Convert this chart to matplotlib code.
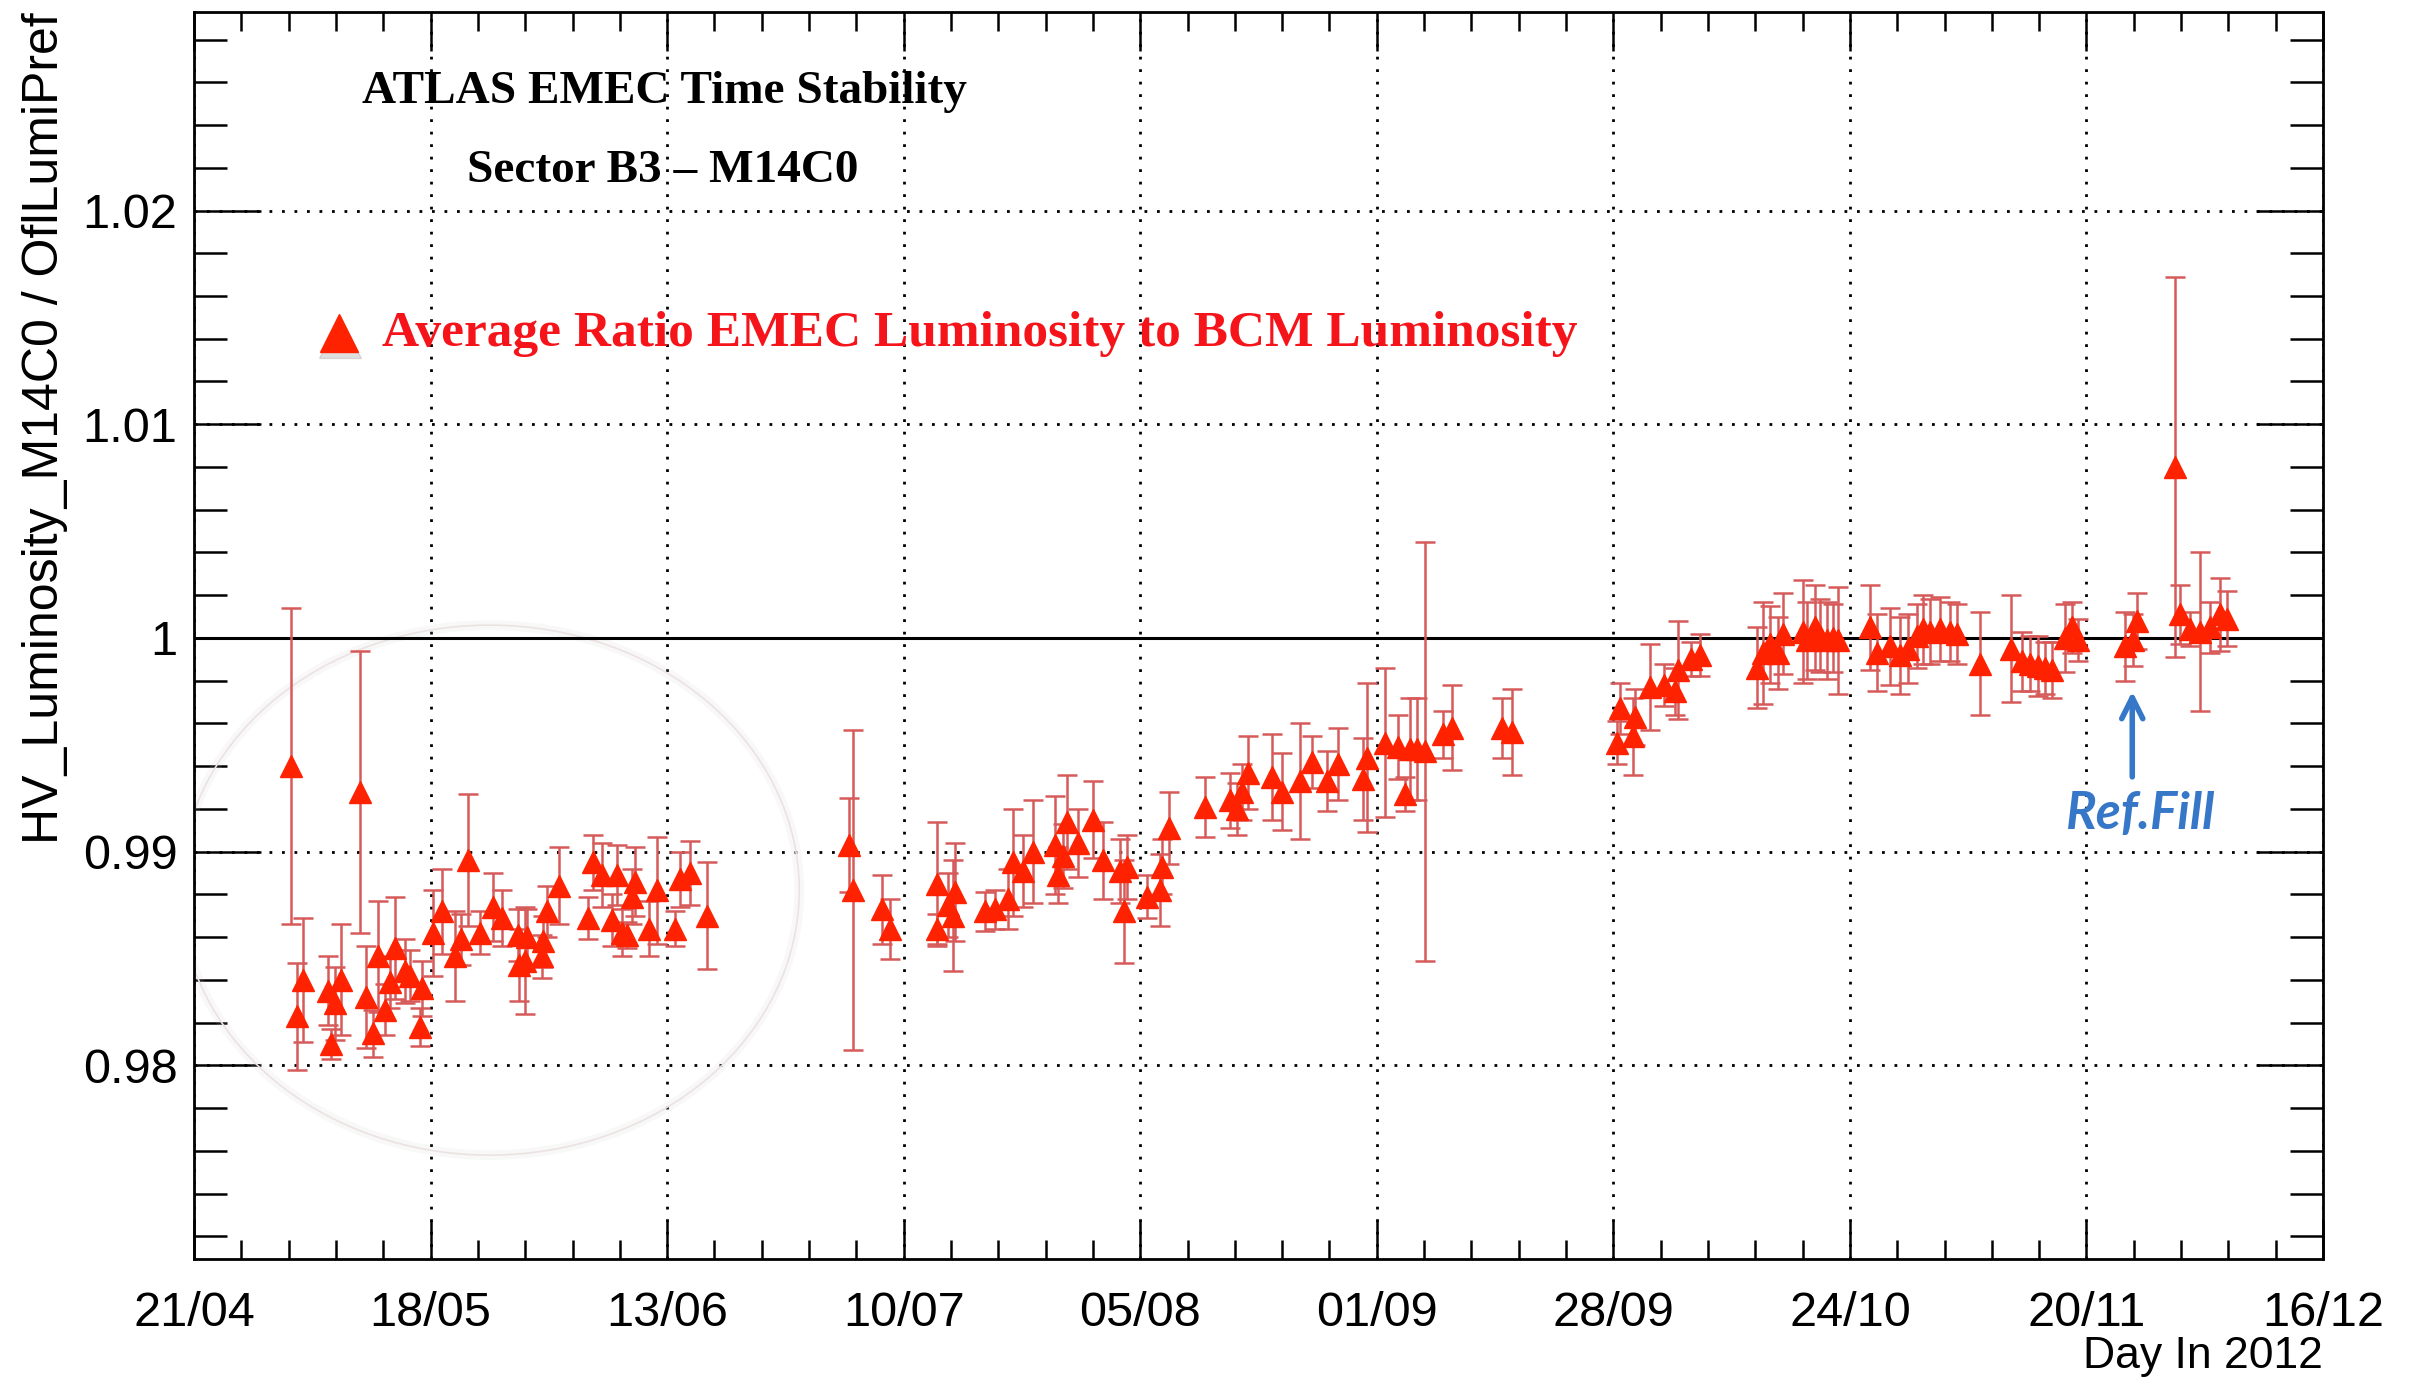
from datetime import datetime, timedelta

import matplotlib

matplotlib.use("Agg")
import matplotlib.pyplot as plt
from matplotlib.patches import Ellipse
from matplotlib.ticker import AutoMinorLocator, FuncFormatter, LinearLocator, MultipleLocator

plt.rcParams["font.family"] = ["Liberation Sans", "DejaVu Sans"]

# Run time as fractional day in 2012 (0.0 = 1 January 00:00)
day = [
    122.55, 123.30, 123.90, 126.78, 127.08, 127.53, 128.16, 130.33, 131.01, 131.76,
    132.39, 133.14, 133.70, 134.26, 135.39, 135.95, 137.07, 137.26, 138.57, 139.50,
    141.00, 141.64, 142.50, 143.81, 145.23, 146.24, 148.11, 148.22, 148.86, 149.05,
    150.73, 150.92, 151.37, 152.71, 155.97, 156.53, 157.47, 158.59, 159.15, 159.71,
    160.27, 160.83, 161.20, 162.81, 163.64, 165.70, 166.26, 167.38, 169.25, 185.27,
    185.72, 188.90, 189.83, 195.07, 195.15, 196.38, 196.95, 197.13, 200.49, 201.62,
    203.11, 203.68, 204.80, 205.92, 208.35, 208.73, 209.29, 209.66, 210.97, 212.66,
    213.78, 215.65, 216.10, 216.40, 218.65, 220.14, 220.33, 221.19, 225.19, 228.00,
    228.75, 229.31, 230.06, 232.68, 233.80, 235.86, 237.17, 238.85, 240.16, 242.97,
    243.34, 245.40, 246.90, 247.64, 248.20, 248.95, 249.89, 251.95, 252.88, 258.50,
    259.62, 271.41, 271.78, 273.28, 273.47, 275.15, 276.71, 277.91, 278.31, 279.81,
    280.76, 287.12, 287.87, 288.62, 289.56, 290.12, 292.36, 292.74, 293.67, 294.23,
    294.98, 295.73, 296.29, 299.85, 300.60, 302.09, 303.21, 304.15, 305.09, 305.84,
    306.58, 307.71, 308.83, 309.58, 312.20, 315.71, 316.88, 317.81, 318.75, 319.50,
    320.24, 321.74, 322.49, 323.24, 328.48, 329.41, 329.79, 334.09, 334.65, 335.78,
    336.90, 338.02, 339.14, 339.89,
]
ratio = [
    0.9940, 0.9823, 0.9840, 0.9835, 0.9810, 0.9829, 0.9840, 0.9928, 0.9832, 0.9815,
    0.9851, 0.9826, 0.9839, 0.9855, 0.9844, 0.9842, 0.9818, 0.9836, 0.9862, 0.9872,
    0.9851, 0.9859, 0.9896, 0.9862, 0.9874, 0.9869, 0.9861, 0.9847, 0.9849, 0.9860,
    0.9851, 0.9858, 0.9872, 0.9884, 0.9869, 0.9895, 0.9889, 0.9868, 0.9889, 0.9862,
    0.9861, 0.9879, 0.9886, 0.9864, 0.9882, 0.9864, 0.9887, 0.9890, 0.9870, 0.9903,
    0.9882, 0.9873, 0.9864, 0.9885, 0.9864, 0.9875, 0.9870, 0.9881, 0.9872, 0.9873,
    0.9878, 0.9895, 0.9891, 0.9900, 0.9903, 0.9889, 0.9898, 0.9914, 0.9904, 0.9915,
    0.9896, 0.9891, 0.9872, 0.9893, 0.9879, 0.9882, 0.9893, 0.9911, 0.9921, 0.9924,
    0.9920, 0.9928, 0.9937, 0.9935, 0.9928, 0.9933, 0.9942, 0.9933, 0.9941, 0.9934,
    0.9944, 0.9951, 0.9949, 0.9927, 0.9948, 0.9948, 0.9947, 0.9955, 0.9958, 0.9958,
    0.9956, 0.9951, 0.9967, 0.9954, 0.9963, 0.9977, 0.9978, 0.9975, 0.9985, 0.9990,
    0.9992, 0.9986, 0.9993, 0.9997, 0.9993, 1.0002, 1.0003, 0.9999, 1.0005, 1.0001,
    0.9999, 1.0000, 0.9999, 1.0005, 0.9993, 0.9996, 0.9992, 0.9995, 1.0001, 1.0004,
    1.0003, 1.0004, 1.0003, 1.0002, 0.9988, 0.9995, 0.9989, 0.9988, 0.9987, 0.9986,
    0.9985, 1.0000, 1.0005, 0.9999, 0.9996, 0.9999, 1.0008, 1.0080, 1.0011, 1.0004,
    1.0003, 1.0005, 1.0011, 1.0009,
]
ratio_err = [
    0.0074, 0.0025, 0.0029, 0.0016, 0.0007, 0.0017, 0.0026, 0.0066, 0.0024, 0.0011,
    0.0026, 0.0012, 0.0012, 0.0024, 0.0015, 0.0012, 0.0009, 0.0013, 0.0020, 0.0020,
    0.0021, 0.0012, 0.0031, 0.0010, 0.0016, 0.0013, 0.0012, 0.0017, 0.0025, 0.0013,
    0.0010, 0.0012, 0.0012, 0.0018, 0.0010, 0.0013, 0.0015, 0.0012, 0.0014, 0.0011,
    0.0006, 0.0013, 0.0016, 0.0013, 0.0025, 0.0008, 0.0013, 0.0015, 0.0025, 0.0022,
    0.0075, 0.0016, 0.0014, 0.0029, 0.0007, 0.0015, 0.0026, 0.0023, 0.0009, 0.0009,
    0.0014, 0.0025, 0.0017, 0.0024, 0.0023, 0.0013, 0.0015, 0.0022, 0.0016, 0.0018,
    0.0018, 0.0015, 0.0024, 0.0015, 0.0010, 0.0017, 0.0013, 0.0017, 0.0014, 0.0013,
    0.0012, 0.0013, 0.0017, 0.0020, 0.0018, 0.0027, 0.0012, 0.0014, 0.0017, 0.0019,
    0.0035, 0.0035, 0.0015, 0.0008, 0.0024, 0.0024, 0.0098, 0.0011, 0.0020, 0.0014,
    0.0020, 0.0010, 0.0012, 0.0018, 0.0013, 0.0020, 0.0010, 0.0011, 0.0023, 0.0008,
    0.0010, 0.0019, 0.0024, 0.0018, 0.0017, 0.0019, 0.0024, 0.0018, 0.0020, 0.0017,
    0.0018, 0.0016, 0.0025, 0.0020, 0.0018, 0.0018, 0.0018, 0.0016, 0.0015, 0.0016,
    0.0015, 0.0015, 0.0014, 0.0014, 0.0024, 0.0025, 0.0014, 0.0013, 0.0014, 0.0012,
    0.0013, 0.0016, 0.0012, 0.0010, 0.0016, 0.0012, 0.0013, 0.0089, 0.0014, 0.0008,
    0.0037, 0.0012, 0.0017, 0.0013,
]

day_range = (111.71, 350.71)
ratio_range = (0.97094, 1.02929)
ref_fill_day = 329.3

MARKER_RED = "#ff2200"
BAR_RED = "#d65a5a"
TEXT_RED = "#f5141a"
REF_BLUE = "#3677c8"


def day_label(value, _pos):
    return (datetime(2012, 1, 1) + timedelta(days=value)).strftime("%d/%m")


fig = plt.figure(figsize=(24.17, 13.77), dpi=100)
ax = fig.add_axes([0.0803, 0.0857, 0.8808, 0.9056])

ax.set_xlim(*day_range)
ax.set_ylim(*ratio_range)

ax.xaxis.set_major_locator(LinearLocator(10))
ax.xaxis.set_minor_locator(AutoMinorLocator(5))
ax.xaxis.set_major_formatter(FuncFormatter(day_label))
ax.yaxis.set_major_locator(MultipleLocator(0.01))
ax.yaxis.set_minor_locator(AutoMinorLocator(5))
ax.yaxis.set_major_formatter(FuncFormatter(lambda v, _p: f"{v:g}"))

ax.grid(True, which="major", color="black", linestyle=(0, (1, 3.5)), linewidth=2.0)
ax.set_axisbelow(True)
for spine in ax.spines.values():
    spine.set_linewidth(2.0)

ax.tick_params(which="both", direction="in", top=True, right=True,
               labelsize=35, width=1.8)
ax.tick_params(axis="x", which="major", length=28, pad=23)
ax.tick_params(axis="x", which="minor", length=14)
ax.tick_params(axis="y", which="major", length=48, pad=12)
ax.tick_params(axis="y", which="minor", length=24)

ax.axhline(1.0, color="black", linewidth=2.2, zorder=2)

# highlight ring around the early-season points
ring = dict(width=69.5, height=0.0248)
ax.add_patch(Ellipse((144.9, 0.9882), **ring, fill=False,
                     edgecolor="#c8c8c8", linewidth=7, alpha=0.12, zorder=1))
ax.add_patch(Ellipse((144.9, 0.9882), **ring, fill=False,
                     edgecolor="#ece2e2", linewidth=1.2, zorder=1))

ax.errorbar(day, ratio, yerr=ratio_err, fmt="none", ecolor=BAR_RED,
            elinewidth=1.8, capsize=7, capthick=1.8, zorder=3)
ax.plot(day, ratio, linestyle="none", marker="^", markersize=16.5,
        color=MARKER_RED, markeredgecolor=MARKER_RED, zorder=4)

ax.set_ylabel("HV_Luminosity_M14C0 / OflLumiPref", fontsize=36, loc="top")
ax.yaxis.set_label_coords(-0.059, 1.0)
ax.set_xlabel("Day In 2012", fontsize=32, loc="right")
ax.xaxis.set_label_coords(1.0, -0.062)

serif = ["Liberation Serif", "DejaVu Serif"]
ax.text(0.2208, 0.9359, "ATLAS EMEC Time Stability", transform=ax.transAxes,
        ha="center", va="center", fontsize=34, fontweight="bold", family=serif)
ax.text(0.2203, 0.8725, "Sector B3 \u2013 M14C0", transform=ax.transAxes,
        ha="center", va="center", fontsize=34, fontweight="bold", family=serif)

# legend entry: shadowed triangle plus red caption
ax.plot([0.0685], [0.7395], transform=ax.transAxes, marker="^", markersize=30,
        color="#999999", alpha=0.3, linestyle="none", zorder=5)
ax.plot([0.068], [0.7425], transform=ax.transAxes, marker="^", markersize=28,
        color=MARKER_RED, linestyle="none", zorder=6)
ax.text(0.0884, 0.7414, "Average Ratio EMEC Luminosity to BCM Luminosity",
        transform=ax.transAxes, ha="left", va="center", fontsize=37,
        fontweight="bold", color=TEXT_RED, family=serif)

ax.annotate("", xy=(ref_fill_day, 0.9975), xytext=(ref_fill_day, 0.9935),
            arrowprops=dict(arrowstyle="->", color=REF_BLUE, linewidth=4,
                            mutation_scale=38, shrinkA=0, shrinkB=0), zorder=5)
ax.text(ref_fill_day + 0.8, 0.99175, "Ref.Fill", ha="center", va="center",
        fontsize=37, fontweight="bold", fontstyle="italic", color=REF_BLUE,
        family=["Lato", "DejaVu Sans"])

fig.savefig("out.png", dpi=100)
